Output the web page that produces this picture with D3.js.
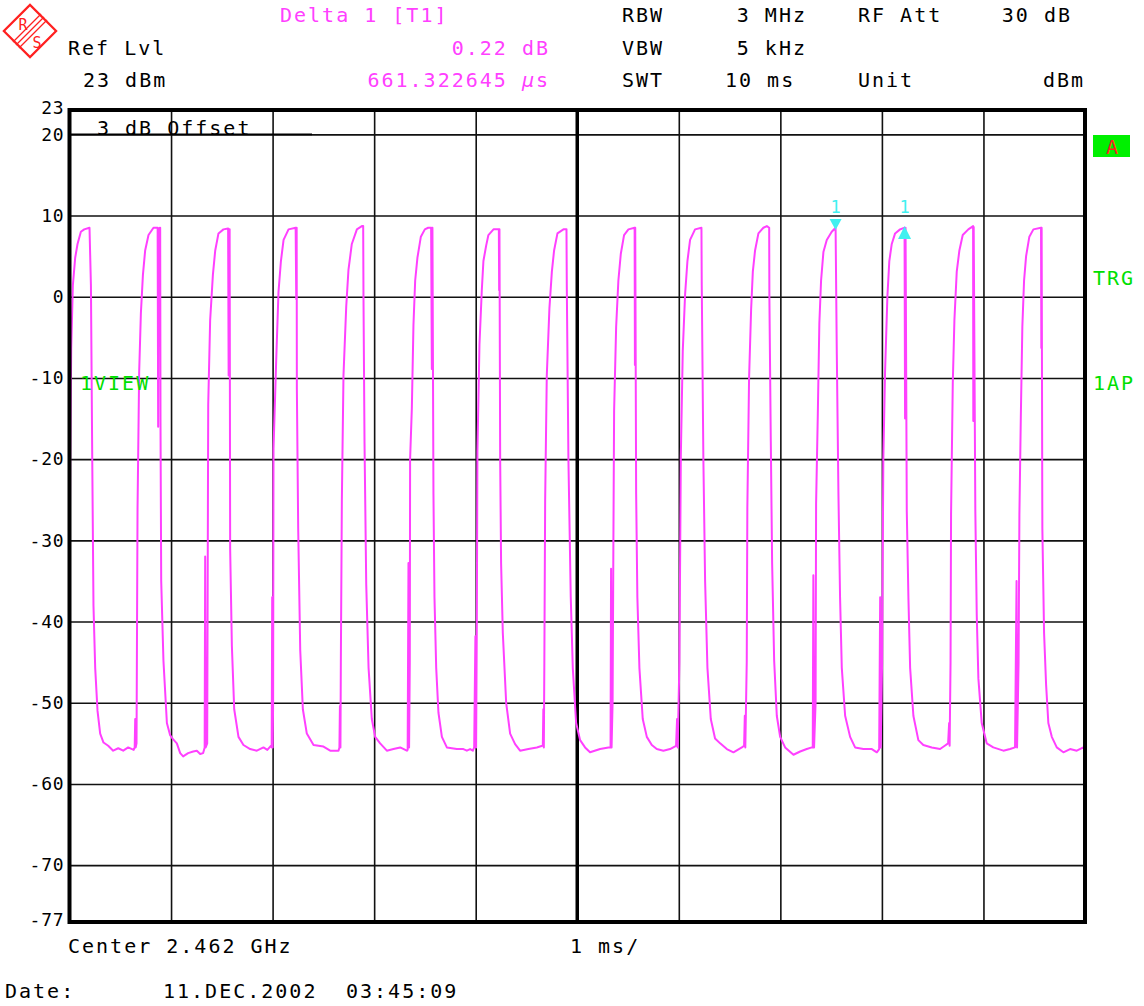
<!DOCTYPE html>
<html>
<head>
<meta charset="utf-8">
<script src="https://cdn.jsdelivr.net/npm/d3@7/dist/d3.min.js"></script>
<style>
  html, body { margin: 0; padding: 0; background: #fff; }
  svg { display: block; }
  text { font-family: "DejaVu Sans Mono", monospace; }
</style>
</head>
<body>
<svg id="chart" width="1144" height="1006"></svg>
<script>
// ---------------- data ----------------
const yTickValues = [23, 20, 10, 0, -10, -20, -30, -40, -50, -60, -70, -77];
const yGridValues = [20, 10, 0, -10, -20, -30, -40, -50, -60, -70];
const xGridValues = [1, 2, 3, 4, 6, 7, 8, 9];
const xCenterValue = 5;
const sweepMs = [0, 10];
const levelRange = [-77, 23];

// trace: [time in ms, level in dBm]
const trace = [
  [0.000,-41.6],[0.007,-20],[0.017,-6.3],[0.033,1.4],[0.056,4.8],[0.079,6.5],[0.112,8.0],[0.145,8.3],[0.197,8.5],
  [0.211,1.4],[0.224,-20],[0.236,-38],[0.253,-45.7],[0.276,-51],[0.302,-53.8],[0.335,-54.9],[0.381,-55.3],[0.430,-55.9],[0.480,-55.6],[0.529,-55.9],[0.578,-55.5],[0.632,-55.8],
  [0.642,-55.5],[0.647,-52],[0.652,-55.5],[0.660,-55],[0.670,-26],[0.686,-9.3],[0.703,-2],[0.723,2.7],[0.745,5.7],[0.778,7.6],[0.827,8.5],[0.868,8.5],
  [0.873,-16],[0.878,8.4],[0.893,8.5],[0.896,-15],[0.903,-35],[0.925,-44.8],[0.959,-52.5],[0.991,-54],[1.021,-54.5],[1.057,-55],[1.090,-56.2],[1.119,-56.6],[1.168,-56.2],[1.218,-56],[1.254,-55.9],[1.287,-56.3],[1.316,-56.2],[1.331,-55.5],
  [1.336,-32],[1.341,-55.5],[1.356,-55],[1.366,-13.3],[1.385,-2.9],[1.412,2.7],[1.435,5.7],[1.467,7.8],[1.516,8.3],[1.562,8.4],
  [1.567,-9.7],[1.572,8.3],[1.577,8.3],[1.582,-31],[1.599,-43],[1.622,-50.8],[1.664,-54.2],[1.713,-55.2],[1.779,-55.7],[1.845,-55.9],[1.910,-55.5],[1.948,-55.8],[1.983,-55.3],
  [1.991,-55.5],[1.996,-37],[2.001,-55.5],[2.005,-50],[2.009,-18.7],[2.035,-8],[2.058,0.6],[2.082,4.4],[2.108,7],[2.157,8.3],[2.227,8.5],
  [2.233,-0.3],[2.237,8.5],[2.239,-11.4],[2.252,-28.5],[2.272,-43.5],[2.298,-50.8],[2.337,-53.8],[2.403,-55.2],[2.501,-55.4],[2.567,-55.9],[2.649,-55.9],
  [2.658,-55.5],[2.663,-50.4],[2.668,-55.5],[2.672,-45],[2.682,-25],[2.698,-9.7],[2.725,-1.2],[2.747,3.3],[2.780,6.5],[2.830,8.3],[2.879,8.7],[2.892,8.7],
  [2.895,0],[2.905,-17.8],[2.922,-35.4],[2.945,-45.7],[2.977,-52],[3.010,-54.2],[3.059,-55],[3.125,-55.9],[3.190,-55.7],[3.256,-55.5],[3.322,-55.9],
  [3.330,-55.8],[3.338,-32.8],[3.344,-55.5],[3.351,-45],[3.354,-20],[3.371,-13.8],[3.387,-3.5],[3.404,2],[3.426,4.8],[3.460,7.4],[3.499,8.3],[3.532,8.5],[3.561,8.5],
  [3.568,-8.9],[3.571,8.5],[3.574,8.5],[3.584,-24.3],[3.594,-37],[3.611,-45.7],[3.633,-51.2],[3.667,-54.2],[3.716,-55.5],[3.814,-55.7],[3.879,-55.7],[3.913,-55.9],[3.945,-55.7],[3.972,-55.9],
  [3.985,-55.5],[3.997,-41.8],[4.004,-55.5],[4.011,-40],[4.017,-19],[4.037,-5.9],[4.060,0.8],[4.076,4.4],[4.103,6.3],[4.125,7.6],[4.175,8.3],[4.228,8.3],
  [4.231,0.8],[4.234,8.3],[4.241,-20],[4.250,-32.8],[4.267,-41.4],[4.300,-50],[4.339,-53.8],[4.388,-55.1],[4.437,-55.9],[4.519,-55.7],[4.602,-55.5],[4.656,-55.3],
  [4.661,-55.3],[4.666,-50.8],[4.671,-55.5],[4.676,-45],[4.684,-25],[4.700,-9.7],[4.726,-1.4],[4.750,3.1],[4.772,5.7],[4.805,7.8],[4.864,8.3],[4.894,8.3],
  [4.897,1.4],[4.913,-20],[4.936,-37],[4.956,-45.7],[4.989,-52.5],[5.028,-54.6],[5.077,-55.5],[5.126,-56.1],[5.225,-55.7],[5.307,-55.5],[5.328,-55.5],
  [5.333,-33.5],[5.338,-55.5],[5.348,-50],[5.356,-30],[5.363,-14],[5.383,-3.7],[5.405,2],[5.429,5.3],[5.461,7.6],[5.504,8.3],[5.565,8.5],
  [5.568,-8.4],[5.571,8.5],[5.580,-24.3],[5.592,-37],[5.612,-45.7],[5.645,-52],[5.685,-54.2],[5.734,-55.2],[5.783,-55.7],[5.848,-55.9],[5.914,-55.7],[5.973,-55.3],
  [5.983,-52],[5.989,-55.5],[6.006,-45],[6.020,-19.6],[6.039,-6.7],[6.062,0.3],[6.085,4.4],[6.111,7],[6.160,8.3],[6.223,8.5],
  [6.226,1.4],[6.242,-20],[6.259,-35],[6.282,-45.7],[6.315,-52],[6.357,-54.4],[6.407,-55],[6.473,-55.7],[6.538,-56.1],[6.621,-55.5],[6.643,-55.3],
  [6.650,-51.6],[6.655,-55.5],[6.669,-45],[6.675,-26],[6.692,-10],[6.712,-1.6],[6.729,3.1],[6.751,5.7],[6.784,7.8],[6.833,8.5],[6.867,8.7],[6.890,8.5],
  [6.892,0],[6.906,-17.8],[6.919,-32.8],[6.939,-44.8],[6.965,-51.6],[6.998,-54.2],[7.047,-55.5],[7.129,-56.4],[7.195,-56],[7.260,-55.7],[7.310,-55.5],
  [7.319,-55.5],[7.325,-34.3],[7.332,-55.5],[7.347,-50],[7.352,-25.5],[7.369,-14.4],[7.384,-3.3],[7.401,2],[7.424,5.5],[7.457,7],[7.506,8],[7.544,8.5],
  [7.556,-7.1],[7.572,-24.3],[7.588,-37],[7.605,-45.7],[7.638,-51.6],[7.687,-54.2],[7.736,-55.5],[7.818,-55.7],[7.901,-55.7],[7.950,-56.1],[7.973,-55.7],
  [7.983,-37],[7.988,-55.5],[8.002,-45],[8.014,-20],[8.031,-9.3],[8.054,0],[8.073,4.4],[8.097,6.5],[8.130,7.8],[8.179,8.3],[8.223,8.5],
  [8.228,-15],[8.233,8.5],[8.245,-26.4],[8.261,-37],[8.278,-45.7],[8.310,-51.6],[8.359,-54.6],[8.408,-55.2],[8.491,-55.5],[8.573,-55.7],[8.619,-55.3],[8.652,-55],
  [8.662,-52.5],[8.667,-55.3],[8.676,-45],[8.681,-26.8],[8.698,-10.6],[8.714,-2.9],[8.737,3.1],[8.763,5.7],[8.796,7.6],[8.851,8.3],[8.898,8.7],
  [8.900,-15.3],[8.904,8.6],[8.920,-26.4],[8.934,-39.2],[8.950,-47],[8.983,-52.5],[9.032,-55],[9.097,-55.5],[9.196,-55.9],[9.262,-55.7],[9.311,-55.5],
  [9.326,-35],[9.331,-55.5],[9.346,-45],[9.354,-26.8],[9.368,-14.8],[9.383,-3.7],[9.400,2],[9.420,5],[9.452,7.4],[9.492,8.3],[9.567,8.5],
  [9.570,-6.3],[9.573,8.5],[9.580,-28.5],[9.597,-41.4],[9.617,-47.8],[9.639,-52.5],[9.673,-54.2],[9.722,-55.5],[9.787,-56.1],[9.853,-55.7],[9.919,-55.9],[9.984,-55.5],[10.0,-55.8]
];

// markers: [time ms, level dBm, direction]
const markers = [
  { label: "1", t: 7.544, level: 8.5, dir: "down" },
  { label: "1", t: 8.223, level: 8.5, dir: "up" }
];

const headerLeft = [
  { text: "Ref Lvl", x: 68, y: 55, anchor: "start", color: "#000" },
  { text: "23 dBm", x: 83, y: 87, anchor: "start", color: "#000" },
  { text: "Delta 1 [T1]", x: 280, y: 22, anchor: "start", color: "#ff40ff" },
  { text: "0.22 dB", x: 550, y: 55, anchor: "end", color: "#ff40ff" }
];
const headerRight = [
  { text: "RBW", x: 622, y: 22, anchor: "start" },
  { text: "3 MHz", x: 807, y: 22, anchor: "end" },
  { text: "RF Att", x: 858, y: 22, anchor: "start" },
  { text: "30 dB", x: 1072, y: 22, anchor: "end" },
  { text: "VBW", x: 622, y: 55, anchor: "start" },
  { text: "5 kHz", x: 807, y: 55, anchor: "end" },
  { text: "SWT", x: 622, y: 87, anchor: "start" },
  { text: "10 ms", x: 725, y: 87, anchor: "start" },
  { text: "Unit", x: 858, y: 87, anchor: "start" },
  { text: "dBm", x: 1085, y: 87, anchor: "end" }
];
const footer = [
  { text: "Center 2.462 GHz", x: 68, y: 953 },
  { text: "1 ms/", x: 570, y: 953 },
  { text: "Date:", x: 5, y: 998 },
  { text: "11.DEC.2002", x: 163, y: 998 },
  { text: "03:45:09", x: 346, y: 998 }
];

// ---------------- drawing ----------------
const svg = d3.select("#chart");
const L = 69.5, R = 1085, T = 110, B = 922;
const x = d3.scaleLinear().domain(sweepMs).range([L, R]);
const y = d3.scaleLinear().domain(levelRange).range([B, T]);

const MAG = "#ff40ff", GREEN = "#00e000", CYAN = "#40f0f0", RED = "#ff2020";

// grid via axes
const gy = svg.append("g").attr("transform", `translate(${L},0)`)
  .call(d3.axisLeft(y).tickValues(yGridValues).tickSize(-(R - L)).tickFormat(""));
gy.select(".domain").remove();
gy.selectAll(".tick line").attr("stroke", "#111").attr("stroke-width", 1.6);

const gx = svg.append("g").attr("transform", `translate(0,${B})`)
  .call(d3.axisBottom(x).tickValues(xGridValues).tickSize(-(B - T)).tickFormat(""));
gx.select(".domain").remove();
gx.selectAll(".tick line").attr("stroke", "#111").attr("stroke-width", 1.6);

// centre line
svg.append("line").attr("x1", x(xCenterValue)).attr("x2", x(xCenterValue))
  .attr("y1", T).attr("y2", B).attr("stroke", "#000").attr("stroke-width", 3.5);

// offset marker segment
svg.append("line").attr("x1", L).attr("x2", 312).attr("y1", y(20)).attr("y2", y(20))
  .attr("stroke", "#000").attr("stroke-width", 1.8);

// y labels
const ga = svg.append("g").attr("transform", `translate(${L},0)`)
  .call(d3.axisLeft(y).tickValues(yTickValues).tickSize(0).tickPadding(5)
    .tickFormat(d => (d < 0 ? "-" + Math.abs(d) : String(d))));
ga.select(".domain").remove();
ga.selectAll(".tick text")
  .attr("font-family", "DejaVu Sans Mono, monospace")
  .attr("font-size", 18).attr("letter-spacing", 0.8).attr("fill", "#000")
  .attr("dy", d => d === 23 ? "0.2em" : (d === -77 ? "0.2em" : "0.32em"));

// trace
svg.append("path").datum(trace)
  .attr("fill", "none").attr("stroke", MAG).attr("stroke-width", 2)
  .attr("stroke-linejoin", "round")
  .attr("d", d3.line().x(d => x(d[0])).y(d => y(d[1])));

// border
svg.append("rect").attr("x", L).attr("y", T).attr("width", R - L).attr("height", B - T)
  .attr("fill", "none").attr("stroke", "#000").attr("stroke-width", 4);

// text helpers
function txt(t, xx, yy, opts = {}) {
  return svg.append("text").attr("x", xx).attr("y", yy)
    .attr("font-size", opts.size || 20)
    .attr("letter-spacing", opts.ls != null ? opts.ls : 2)
    .attr("text-anchor", opts.anchor || "start")
    .attr("fill", opts.color || "#000")
    .text(t);
}

headerLeft.forEach(h => txt(h.text, h.x, h.y, { anchor: h.anchor, color: h.color }));
headerRight.forEach(h => txt(h.text, h.x, h.y, { anchor: h.anchor }));

// marker delta time with italic mu
const dt = svg.append("text").attr("x", 550).attr("y", 87).attr("font-size", 20)
  .attr("letter-spacing", 2).attr("text-anchor", "end").attr("fill", MAG);
dt.append("tspan").text("661.322645 ");
dt.append("tspan").attr("font-style", "italic").text("\u00b5");
dt.append("tspan").text("s");

footer.forEach(f => txt(f.text, f.x, f.y));

txt("3 dB Offset", 97, 135);
txt("1VIEW", 80, 390, { color: GREEN });

// right side annotations
svg.append("rect").attr("x", 1093).attr("y", 135).attr("width", 37).attr("height", 22).attr("fill", "#00f000");
txt("A", 1112, 154, { anchor: "middle", color: RED, ls: 0 });
txt("TRG", 1093, 285, { color: GREEN });
txt("1AP", 1093, 390, { color: GREEN });

// markers
markers.forEach(m => {
  const mx = x(m.t);
  txt(m.label, mx, 213, { anchor: "middle", color: CYAN, size: 17, ls: 0 });
  if (m.dir === "down") {
    const tip = 230;
    svg.append("path").attr("d", `M${mx - 6},${tip - 11}L${mx + 6},${tip - 11}L${mx},${tip}Z`).attr("fill", CYAN);
  } else {
    const tip = 226;
    svg.append("path").attr("d", `M${mx - 6.5},${tip + 13}L${mx + 6.5},${tip + 13}L${mx},${tip}Z`).attr("fill", CYAN);
  }
});

// R&S logo
const logo = svg.append("g").attr("transform", "translate(30,31)");
logo.append("rect").attr("x", -18.5).attr("y", -18.5).attr("width", 37).attr("height", 37)
  .attr("transform", "rotate(45)").attr("fill", "none").attr("stroke", RED).attr("stroke-width", 2.2);
[-3, 0, 3].forEach(o => {
  logo.append("line").attr("x1", -14 + o).attr("y1", 14 + o).attr("x2", 14 + o).attr("y2", -14 + o)
    .attr("stroke", RED).attr("stroke-width", 1.2);
});
logo.append("text").attr("x", -7).attr("y", -1).attr("font-size", 15).attr("text-anchor", "middle")
  .attr("fill", RED).attr("font-family", "DejaVu Sans, sans-serif").text("R");
logo.append("text").attr("x", 7).attr("y", 17).attr("font-size", 15).attr("text-anchor", "middle")
  .attr("fill", RED).attr("font-family", "DejaVu Sans, sans-serif").text("S");
</script>
</body>
</html>
